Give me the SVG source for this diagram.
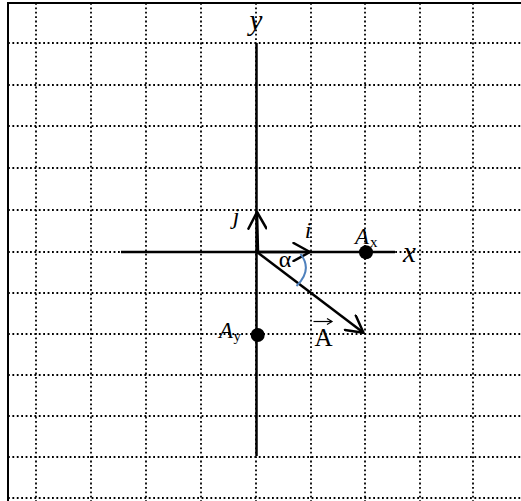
<svg xmlns="http://www.w3.org/2000/svg" width="521" height="501" viewBox="0 0 521 501">
<style>
.grid line{stroke:#000;stroke-width:1.8;stroke-dasharray:1.8 2.6;fill:none}
.ax{stroke:#000;stroke-width:2.5;fill:none}
.vec{stroke:#000;stroke-width:2.5;fill:none}
.mi{font-family:"Liberation Serif","Times New Roman",serif;font-style:italic;fill:#000}
.up{font-family:"Liberation Serif","Times New Roman",serif;font-style:normal;fill:#000}
</style>
<defs>
<marker id="open" markerUnits="userSpaceOnUse" viewBox="0 0 20 20" markerWidth="20" markerHeight="20" refX="18" refY="10" orient="auto">
<path d="M1.5 1 L18 10 L1.5 19" fill="none" stroke="#000" stroke-width="2.5" stroke-linecap="round" stroke-linejoin="round"/>
</marker>
</defs>
<rect width="521" height="501" fill="#fff"/>
<g id="grid" class="grid">
<line x1="36" y1="3" x2="36" y2="501"/>
<line x1="91" y1="3" x2="91" y2="501"/>
<line x1="146" y1="3" x2="146" y2="501"/>
<line x1="201" y1="3" x2="201" y2="501"/>
<line x1="256" y1="3" x2="256" y2="501"/>
<line x1="311" y1="3" x2="311" y2="501"/>
<line x1="365" y1="3" x2="365" y2="501"/>
<line x1="420" y1="3" x2="420" y2="501"/>
<line x1="473" y1="3" x2="473" y2="501"/>
<line x1="8" y1="43" x2="521" y2="43"/>
<line x1="8" y1="85" x2="521" y2="85"/>
<line x1="8" y1="126" x2="521" y2="126"/>
<line x1="8" y1="168" x2="521" y2="168"/>
<line x1="8" y1="210" x2="521" y2="210"/>
<line x1="8" y1="252" x2="521" y2="252"/>
<line x1="8" y1="293" x2="521" y2="293"/>
<line x1="8" y1="334" x2="521" y2="334"/>
<line x1="8" y1="375" x2="521" y2="375"/>
<line x1="8" y1="416" x2="521" y2="416"/>
<line x1="8" y1="457" x2="521" y2="457"/>
<line x1="8" y1="498" x2="521" y2="498"/>
</g>
<g id="frame" stroke="#000" stroke-width="2" fill="none">
<line x1="8" y1="2" x2="8" y2="501"/>
<line x1="7" y1="3" x2="521" y2="3"/>
</g>
<g id="axes">
<line class="ax" x1="121" y1="252" x2="395" y2="252"/>
<line class="ax" x1="256.5" y1="43" x2="256.5" y2="456"/>
</g>
<g id="connectors">
<line id="vec-j" class="vec" x1="258" y1="252" x2="257" y2="212" marker-end="url(#open)"/>
<line id="vec-i" class="vec" x1="257" y1="252" x2="310" y2="252" marker-end="url(#open)"/>
<line id="vec-A" class="vec" x1="257" y1="252" x2="363.5" y2="332.7" marker-end="url(#open)"/>
<path id="angle-arc" d="M300.5 254 Q313 270 296.5 286" fill="none" stroke="#4f81bd" stroke-width="2"/>
</g>
<g id="point-Ax">
<circle cx="366" cy="252.3" r="7" fill="#000"/>
<text class="mi" x="355" y="244" font-size="23">A<tspan font-style="normal" font-size="15" dx="1" dy="2.5">x</tspan></text>
</g>
<g id="point-Ay">
<circle cx="257.7" cy="335" r="7" fill="#000"/>
<text class="mi" x="219" y="338" font-size="23">A<tspan font-style="normal" font-size="15" dx="0.5" dy="2.5">y</tspan></text>
</g>
<g id="labels">
<text class="mi" x="256" y="30" font-size="29" text-anchor="middle">y</text>
<text class="mi" x="409.5" y="262" font-size="29" text-anchor="middle">x</text>
<text class="mi" x="236" y="224" font-size="24" text-anchor="middle">j</text>
<text class="mi" x="308" y="238" font-size="24" text-anchor="middle">i</text>
<text class="up" x="285" y="267" font-size="24" text-anchor="middle">α</text>
</g>
<g id="vector-A-label">
<text class="up" x="323.5" y="346" font-size="25" text-anchor="middle">A</text>
<line x1="313.5" y1="321.5" x2="332" y2="321.5" stroke="#000" stroke-width="1.2"/>
<path d="M327 318.5 L332 321.5 L327 324.5" fill="none" stroke="#000" stroke-width="1.2"/>
</g>
</svg>
